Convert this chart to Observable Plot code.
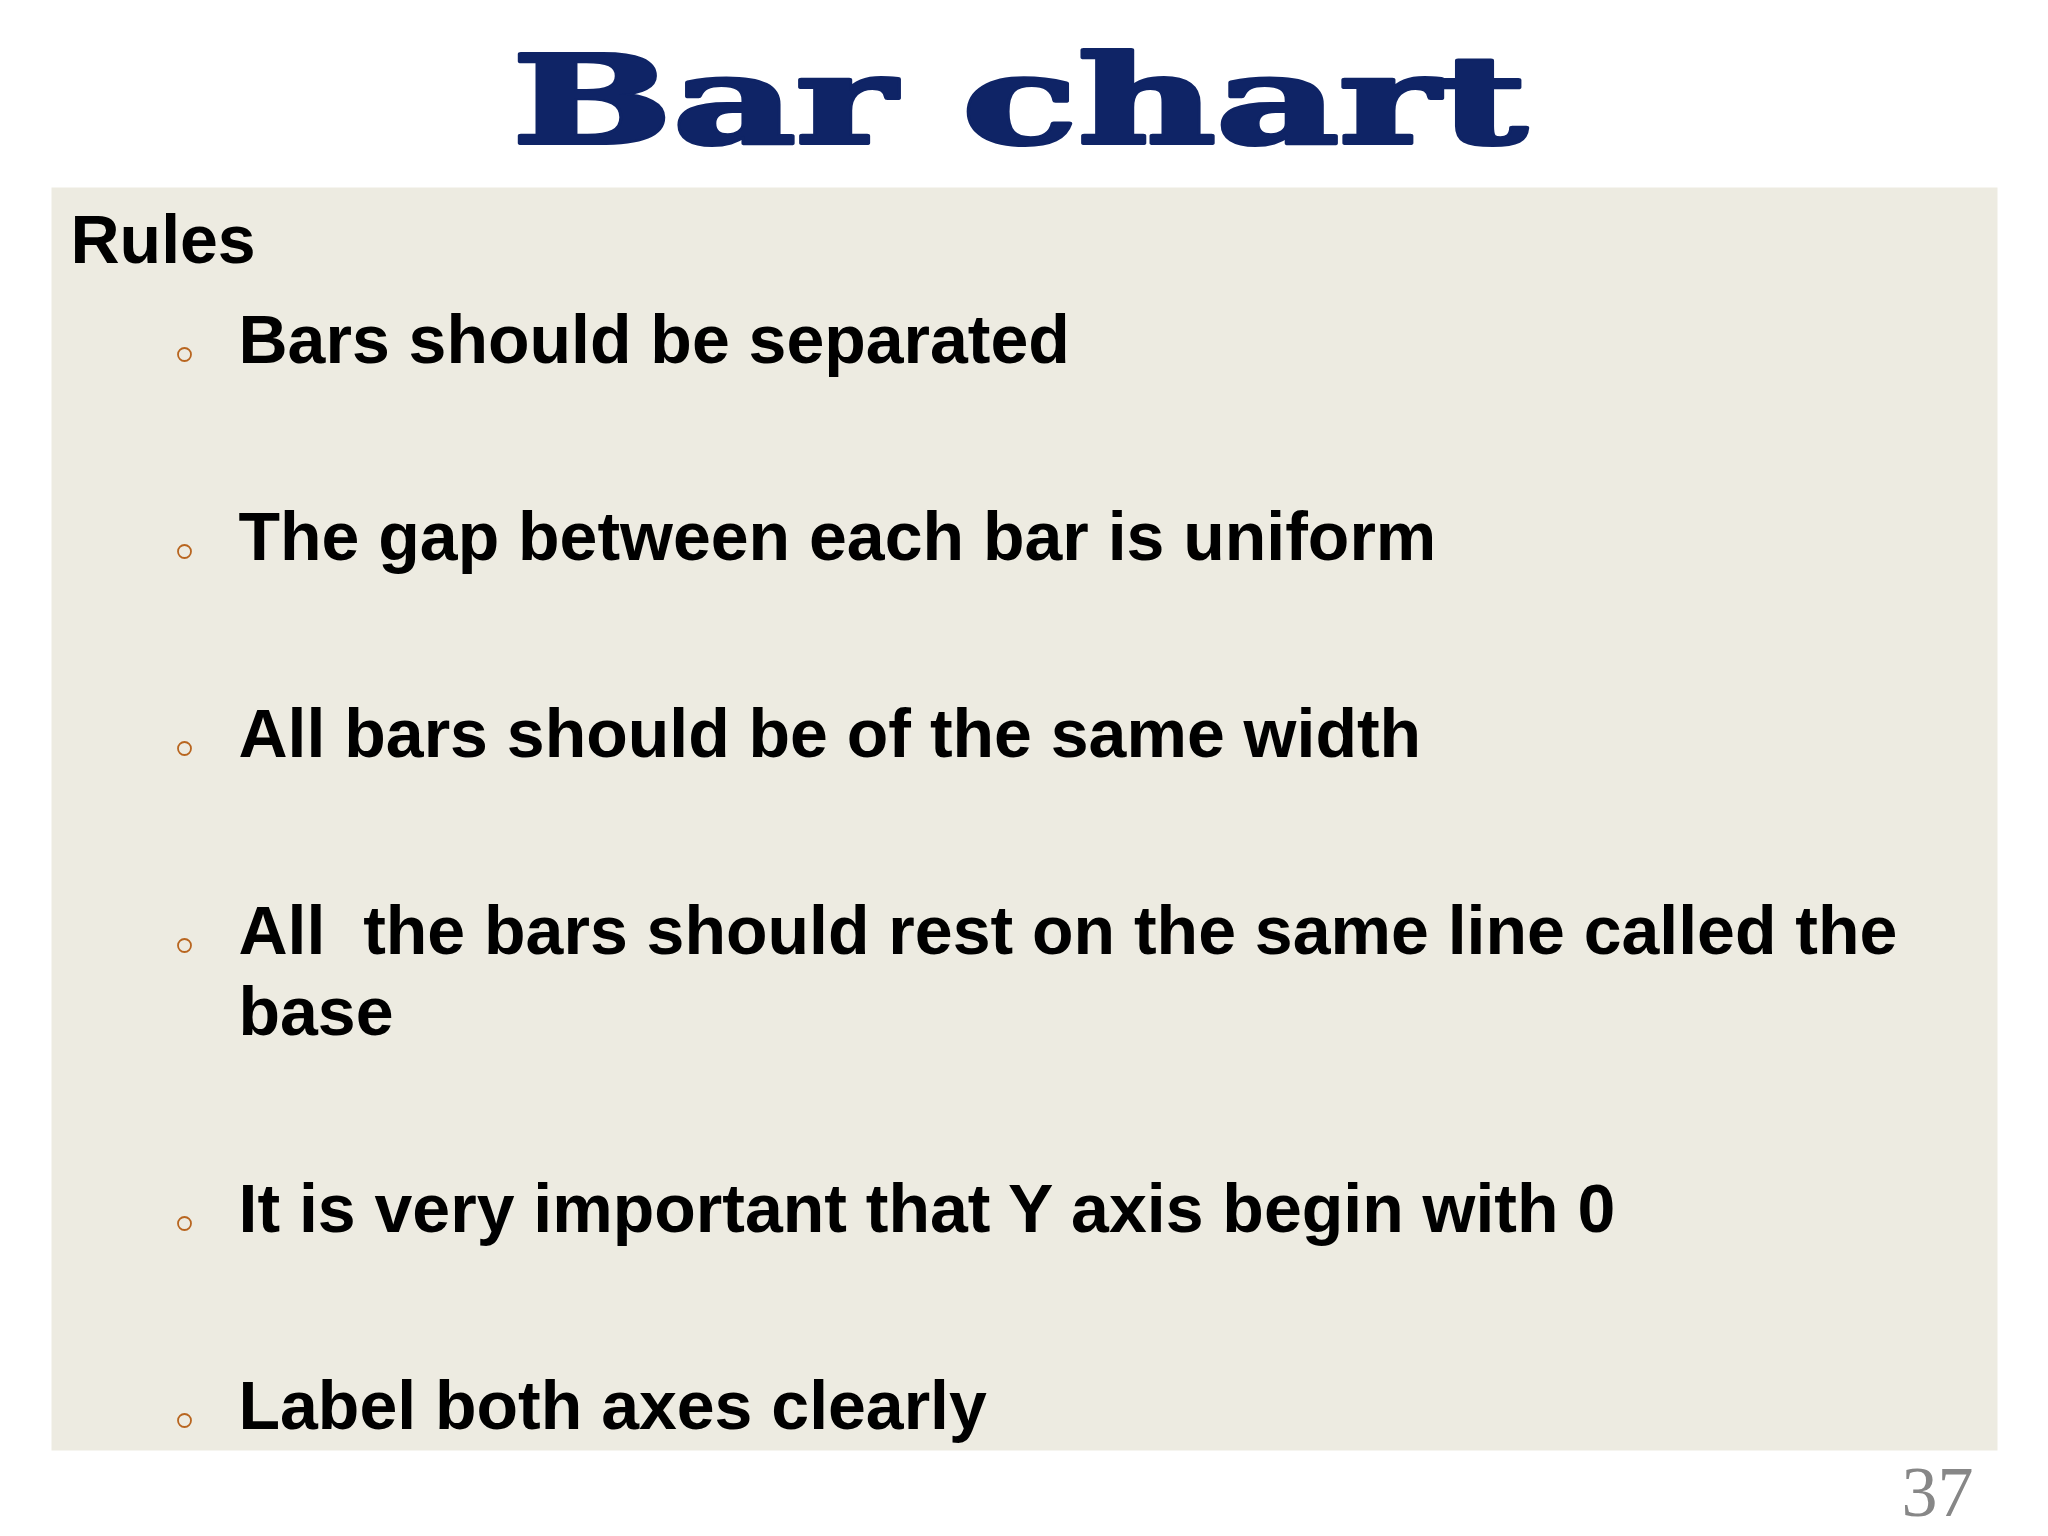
<!DOCTYPE html>
<html>
<head>
<meta charset="utf-8">
<script src="https://cdn.jsdelivr.net/npm/d3@7"></script>
<script src="https://cdn.jsdelivr.net/npm/@observablehq/plot@0.6"></script>
<style>
  html, body { margin: 0; padding: 0; background: #ffffff; }
  #slide { width: 2048px; height: 1536px; overflow: hidden; }
  #slide svg text { white-space: pre; }
</style>
</head>
<body>
<div id="slide"></div>
<script>
// ---- content ----
const titleText = "Bar chart";
const headingText = "Rules";
const bullets = [
  "Bars should be separated",
  "The gap between each bar is uniform",
  "All bars should be of the same width",
  "All  the bars should rest on the same line called the\nbase",
  "It is very important that Y axis begin with 0",
  "Label both axes clearly"
];
const pageNumber = "37";

// ---- layout (pixels) ----
const W = 2048, H = 1536;
const panel = {left: 51, top: 187, right: 1997, bottom: 1450};
const firstBaseline = 362, paraGap = 197, lineGap = 81;
const textX = 238, bulletX = 184, bulletDy = -8;

const lines = [];
let y = firstBaseline;
bullets.forEach((b, i) => {
  const parts = b.split("\n");
  parts.forEach((t, j) => {
    if (j > 0) y += lineGap;
    lines.push({text: t, y, first: j === 0, item: i});
  });
  y += paraGap;
});
const bulletRows = lines.filter(d => d.first);

const svg = Plot.plot({
  width: W,
  height: H,
  marginLeft: panel.left,
  marginTop: panel.top,
  marginRight: W - panel.right,
  marginBottom: H - panel.bottom,
  x: {type: "identity", axis: null},
  y: {type: "identity", axis: null},
  style: {background: "#ffffff", overflow: "visible"},
  marks: [
    Plot.frame({fill: "#EDEBE1", stroke: null}),
    // title
    Plot.text([titleText], {
      x: () => 1019, y: () => 142, text: d => d,
      textAnchor: "middle", lineAnchor: "bottom",
      fontFamily: "DejaVu Serif", fontWeight: "bold", fontSize: 122,
      fill: "#0f2466", stroke: "#0f2466", strokeWidth: 4
    }),
    // heading
    Plot.text([headingText], {
      x: () => 70, y: () => 262, text: d => d,
      textAnchor: "start", lineAnchor: "bottom",
      fontFamily: "Liberation Sans", fontWeight: "bold", fontSize: 68,
      fill: "#000000"
    }),
    // bullets
    Plot.dot(bulletRows, {
      x: () => bulletX, y: d => d.y + bulletDy, r: 6.5,
      fill: "none", stroke: "#B8651F", strokeWidth: 1.8
    }),
    Plot.text(lines, {
      x: () => textX, y: "y", text: "text",
      textAnchor: "start", lineAnchor: "bottom",
      fontFamily: "Liberation Sans", fontWeight: "bold", fontSize: 68,
      fill: "#000000"
    }),
    // page number
    Plot.text([pageNumber], {
      x: () => 1973, y: () => 1515, text: d => d,
      textAnchor: "end", lineAnchor: "bottom",
      fontFamily: "Liberation Serif", fontSize: 72,
      fill: "#878787"
    })
  ]
});

document.getElementById("slide").appendChild(svg);

// stretch the title to the wide display face width
d3.select(svg).selectAll("text")
  .filter(function() { return this.textContent === titleText; })
  .attr("textLength", 1015)
  .attr("lengthAdjust", "spacingAndGlyphs");
</script>
</body>
</html>
